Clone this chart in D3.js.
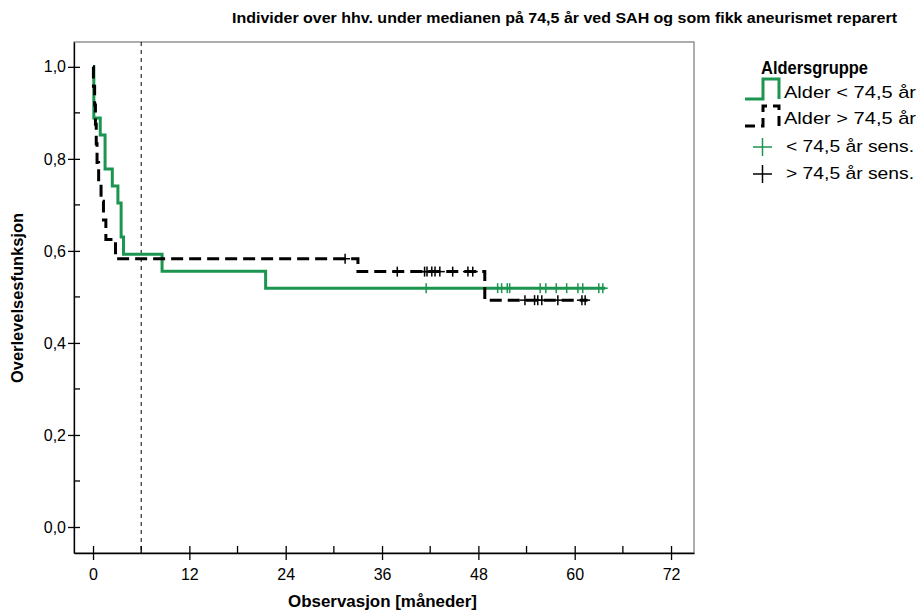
<!DOCTYPE html>
<html>
<head>
<meta charset="utf-8">
<script src="https://cdn.jsdelivr.net/npm/d3@7"></script>
<style>
  body { margin: 0; background: #fff; }
  text { font-family: "Liberation Sans", Arial, sans-serif; }
</style>
</head>
<body>
<svg width="917" height="611"></svg>
<script>
// Kaplan-Meier data (months, survival)
const youngTimes = [0, 0.1, 0.9, 1.5, 2.4, 3.1, 3.5, 3.8, 8.6, 21.5, 63.8];
const youngSurv  = [1.0, 0.889, 0.852, 0.778, 0.741, 0.704, 0.630, 0.593, 0.556, 0.519, 0.519];
const youngCensor = [41.5, 50.4, 50.9, 51.6, 51.9, 55.7, 56.4, 57.7, 59.0, 60.4, 61.0, 63.0, 63.5];

const oldTimes = [0, 0.05, 0.2, 0.3, 0.4, 0.5, 0.7, 1.0, 1.3, 1.6, 2.8, 33.0, 48.8, 61.6];
const oldSurv  = [1.0, 0.958, 0.917, 0.875, 0.833, 0.792, 0.750, 0.708, 0.667, 0.625, 0.583, 0.555, 0.493, 0.493];
const oldCensor = [31.4, 37.9, 41.3, 41.6, 42.2, 42.6, 43.2, 44.8, 46.7, 47.3,
                   53.8, 55.0, 55.4, 55.9, 57.9, 60.9, 61.3];

const xTicks = [0, 12, 24, 36, 48, 60, 72];
const xMinor = [6, 18, 30, 42, 54, 66];
const yTicks = [0, 0.2, 0.4, 0.6, 0.8, 1.0];
const yMinor = [0.1, 0.3, 0.5, 0.7, 0.9];
const medianLine = 6;

const green = "#1b9550";
const svg = d3.select("svg");

const x = d3.scaleLinear().domain([-2.37, 74.86]).range([74, 694]);
const y = d3.scaleLinear().domain([-0.0565, 1.054]).range([553, 42]);
const fmt = d => d3.format(".1f")(d).replace(".", ",");

// frame
svg.append("rect")
  .attr("x", 74).attr("y", 42).attr("width", 620).attr("height", 511)
  .attr("fill", "none").attr("stroke", "#777").attr("stroke-width", 1.2);

// axes
const xAxis = svg.append("g").attr("transform", "translate(0,553)")
  .call(d3.axisBottom(x).tickValues(xTicks).tickSize(7).tickSizeOuter(0).tickPadding(9));
xAxis.selectAll(".tick line").attr("y1", -7).attr("stroke-width", 1.3);
xAxis.selectAll("text").attr("font-size", 16).attr("fill", "#000");
xAxis.select(".domain").attr("stroke-width", 1.3);
xAxis.selectAll(".minor").data(xMinor).enter().append("line")
  .attr("x1", d => x(d)).attr("x2", d => x(d)).attr("y1", 0).attr("y2", -7)
  .attr("stroke", "#000").attr("stroke-width", 1.3);

const yAxis = svg.append("g").attr("transform", "translate(74,0)")
  .call(d3.axisLeft(y).tickValues(yTicks).tickFormat(fmt).tickSize(6).tickSizeOuter(0).tickPadding(2));
yAxis.selectAll(".tick line").attr("x1", 6).attr("stroke-width", 1.3);
yAxis.selectAll("text").attr("font-size", 16).attr("fill", "#000");
yAxis.select(".domain").attr("stroke-width", 1.3);
yAxis.selectAll(".minor").data(yMinor).enter().append("line")
  .attr("x1", 0).attr("x2", 6).attr("y1", d => y(d)).attr("y2", d => y(d))
  .attr("stroke", "#000").attr("stroke-width", 1.3);

// median reference line
svg.append("line")
  .attr("x1", x(medianLine)).attr("x2", x(medianLine)).attr("y1", 42).attr("y2", 553)
  .attr("stroke", "#000").attr("stroke-width", 1).attr("stroke-dasharray", "4,4");

const line = d3.line().x(d => x(d[0])).y(d => y(d[1])).curve(d3.curveStepAfter);
const stepAt = (times, surv, t) => surv[d3.bisectRight(times, t) - 1];

// green (younger) group
svg.append("path")
  .datum(youngTimes.map((t, i) => [t, youngSurv[i]]))
  .attr("d", line).attr("fill", "none").attr("stroke", green)
  .attr("stroke-width", 3);

// black (older) group, drawn on top
svg.append("path")
  .datum(oldTimes.map((t, i) => [t, oldSurv[i]]))
  .attr("d", line).attr("fill", "none").attr("stroke", "#000")
  .attr("stroke-width", 3).attr("stroke-dasharray", "12,6");

// censor marks
function censor(list, times, surv, color) {
  const g = svg.append("g");
  list.forEach(t => {
    const cx = x(t), cy = y(stepAt(times, surv, t));
    g.append("line").attr("x1", cx).attr("x2", cx).attr("y1", cy - 5).attr("y2", cy + 5)
      .attr("stroke", color).attr("stroke-width", 1.5);
    g.append("line").attr("x1", cx - 5).attr("x2", cx + 5).attr("y1", cy).attr("y2", cy)
      .attr("stroke", color).attr("stroke-width", 1.5);
  });
}
censor(youngCensor, youngTimes, youngSurv, green);
censor(oldCensor, oldTimes, oldSurv, "#000");

// titles
svg.append("text").attr("x", 232).attr("y", 23)
  .attr("font-size", 15).attr("font-weight", "bold")
  .attr("textLength", 665).attr("lengthAdjust", "spacingAndGlyphs")
  .text("Individer over hhv. under medianen på 74,5 år ved SAH og som fikk aneurismet reparert");
svg.append("text").attr("x", 288).attr("y", 607)
  .attr("font-size", 16).attr("font-weight", "bold")
  .attr("textLength", 189).attr("lengthAdjust", "spacingAndGlyphs")
  .text("Observasjon [måneder]");
svg.append("text").attr("transform", "translate(23,383) rotate(-90)")
  .attr("font-size", 16).attr("font-weight", "bold")
  .attr("textLength", 170).attr("lengthAdjust", "spacingAndGlyphs")
  .text("Overlevelsesfunksjon");

// legend
const leg = svg.append("g");
leg.append("text").attr("x", 761).attr("y", 74).attr("font-size", 19).attr("font-weight", "bold")
  .attr("textLength", 107).attr("lengthAdjust", "spacingAndGlyphs")
  .text("Aldersgruppe");
leg.append("path").attr("d", "M745,99 H763 V79 H779 V99").attr("fill", "none")
  .attr("stroke", green).attr("stroke-width", 3);
leg.append("path").attr("d", "M745,126 H763 V106 H779 V126").attr("fill", "none")
  .attr("stroke", "#000").attr("stroke-width", 3).attr("stroke-dasharray", "10,6");
const items = [
  {t: "Alder < 74,5 år", y: 98, x: 784, w: 132},
  {t: "Alder > 74,5 år", y: 124, x: 784, w: 132},
  {t: "< 74,5 år sens.", y: 152, x: 786, w: 128},
  {t: "> 74,5 år sens.", y: 179, x: 786, w: 128}
];
leg.selectAll(".item").data(items).enter().append("text")
  .attr("x", d => d.x).attr("y", d => d.y).attr("font-size", 17)
  .attr("textLength", d => d.w).attr("lengthAdjust", "spacingAndGlyphs")
  .text(d => d.t);
[[147, green], [174, "#000"]].forEach(([cy, c]) => {
  leg.append("line").attr("x1", 753).attr("x2", 772).attr("y1", cy).attr("y2", cy).attr("stroke", c).attr("stroke-width", 1.5);
  leg.append("line").attr("x1", 762.5).attr("x2", 762.5).attr("y1", cy - 9).attr("y2", cy + 9).attr("stroke", c).attr("stroke-width", 1.5);
});
</script>
</body>
</html>
